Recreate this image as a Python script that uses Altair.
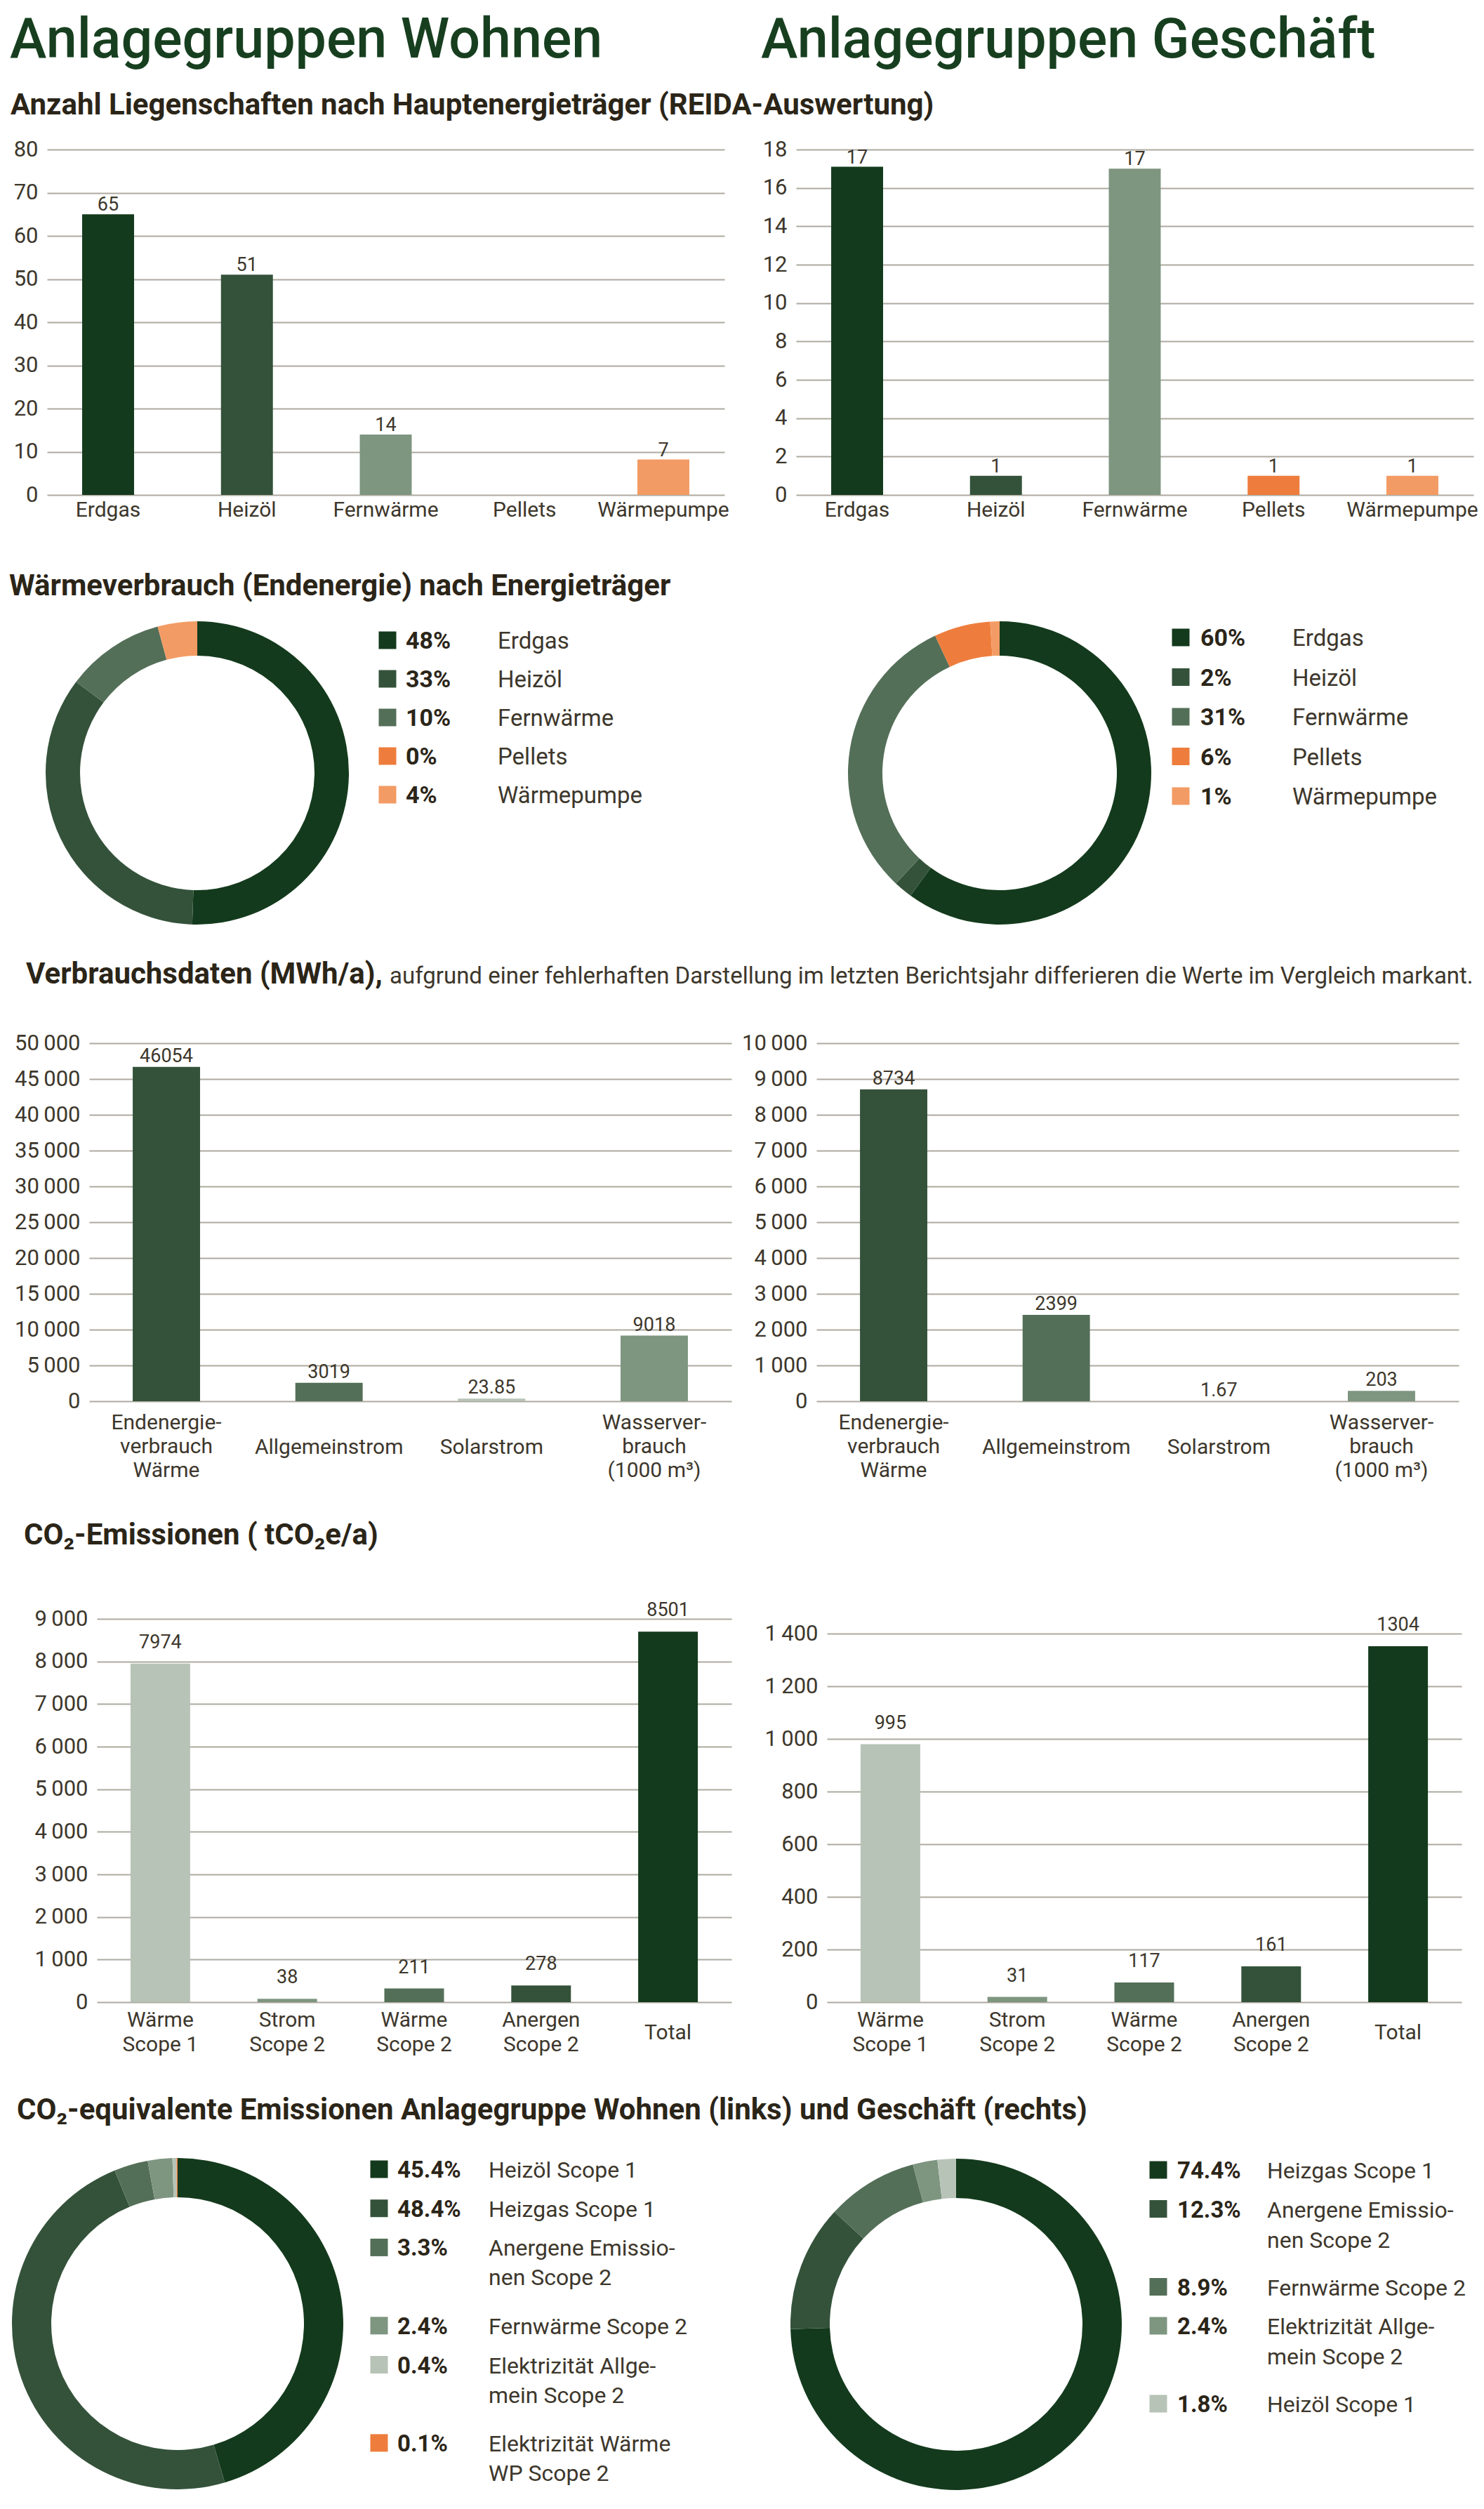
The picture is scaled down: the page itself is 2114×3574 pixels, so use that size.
import altair as alt
import pandas as pd

FONT = "Roboto"
C_TEXT = "#2b2518"
C_AXIS = "#3d372c"
C_GRID = "#aeaaa0"
C_TITLE = "#173f1f"
DARK = "#133a1c"
HEIZ = "#34523a"
MID = "#546f58"
GREY = "#7e9580"
LIGHT = "#b7c3b6"
ORA = "#ee7d3d"
ORAL = "#f39b64"

# ---------------- data ----------------
energy_cats = ["Erdgas", "Heizöl", "Fernwärme", "Pellets", "Wärmepumpe"]
energy_bar_colors = [DARK, HEIZ, GREY, ORA, ORAL]
count_wohnen = [65, 51, 14, 0, 8.2]
count_wohnen_lbl = ["65", "51", "14", "", "7"]
count_gesch = [17.1, 1, 17, 1, 1]
count_gesch_lbl = ["17", "1", "17", "1", "1"]

heat_share_wohnen = [48, 33, 10, 0, 4]
heat_share_gesch = [60, 2, 31, 6, 1]
heat_colors = [DARK, HEIZ, MID, ORA, ORAL]

cons_cats = ["Endenergie-\nverbrauch\nWärme", "Allgemeinstrom", "Solarstrom", "Wasserver-\nbrauch\n(1000 m³)"]
cons_colors = [HEIZ, MID, LIGHT, GREY]
cons_wohnen = [46700, 2580, 360, 9160]
cons_wohnen_lbl = ["46054", "3019", "23.85", "9018"]
cons_gesch = [8710, 2410, 1.67, 290]
cons_gesch_lbl = ["8734", "2399", "1.67", "203"]

co2_cats = ["Wärme\nScope 1", "Strom\nScope 2", "Wärme\nScope 2", "Anergen\nScope 2", "Total"]
co2_colors = [LIGHT, GREY, MID, HEIZ, DARK]
co2_wohnen = [7950, 80, 320, 390, 8700]
co2_wohnen_lbl = ["7974", "38", "211", "278", "8501"]
co2_gesch = [980, 20, 75, 136, 1352]
co2_gesch_lbl = ["995", "31", "117", "161", "1304"]

eq_w_labels = ["Heizöl Scope 1", "Heizgas Scope 1", "Anergene Emissio-\nnen Scope 2",
               "Fernwärme Scope 2", "Elektrizität Allge-\nmein Scope 2", "Elektrizität Wärme\nWP Scope 2"]
eq_w_share = [45.4, 48.4, 3.3, 2.4, 0.4, 0.1]
eq_w_colors = [DARK, HEIZ, MID, GREY, LIGHT, ORA]
eq_g_labels = ["Heizgas Scope 1", "Anergene Emissio-\nnen Scope 2", "Fernwärme Scope 2",
               "Elektrizität Allge-\nmein Scope 2", "Heizöl Scope 1"]
eq_g_share = [74.4, 12.3, 8.9, 2.4, 1.8]
eq_g_colors = [DARK, HEIZ, MID, GREY, LIGHT]

# ---------------- helpers ----------------
WL, WR = 1050, 1045
HFS = 42      # section heading font size
TFS = 79      # big title font size


def text_layer(txt, x, y, size, weight="normal", color=C_TEXT, align="left", baseline="alphabetic"):
    return alt.Chart(pd.DataFrame({"t": [txt]})).mark_text(
        align=align, baseline=baseline, fontSize=size, fontWeight=weight, color=color, font=FONT
    ).encode(text="t:N", x=alt.value(x), y=alt.value(y))


def spacer(w, h):
    return alt.Chart(pd.DataFrame({"a": [0]})).mark_text(text="").encode(
        x=alt.value(0), y=alt.value(0)).properties(width=w, height=h)


YLAB = "replace(format(datum.value, ','), ',', '\u2009')"


def bar_panel(cats, vals, lbls, colors, ymax, ticks, pw, height, x0, x1, pi, po,
              label_dy, pad_multi, pad_single, xlab_lh):
    df = pd.DataFrame({"cat": cats, "val": vals, "lbl": lbls, "col": colors})
    xscale = alt.Scale(range=[x0, x1], paddingInner=pi, paddingOuter=po)
    x = alt.X("cat:N", sort=cats, scale=xscale, title=None,
              axis=alt.Axis(labelAngle=0, domain=False, ticks=False, tickSize=0, grid=False,
                            labelPadding={"condition": {"test": "indexof(datum.value, '\\n') < 0",
                                                        "value": pad_single},
                                          "value": pad_multi},
                            labelExpr="split(datum.label, '\\n')",
                            labelFontSize=30, labelColor=C_AXIS, labelFont=FONT, labelLimit=500,
                            labelLineHeight=xlab_lh, labelBaseline="middle"))
    y = alt.Y("val:Q", scale=alt.Scale(domain=[0, ymax], nice=False), title=None,
              axis=alt.Axis(values=ticks, domain=False, ticks=False, tickSize=0, grid=True,
                            gridColor=C_GRID, gridWidth=2, labelPadding=13, labelExpr=YLAB,
                            offset=-x0, labelFontSize=31, labelColor=C_AXIS, labelFont=FONT))
    bars = alt.Chart(df).mark_bar().encode(x=x, y=y, color=alt.Color("col:N", scale=None))
    txt = alt.Chart(df).mark_text(dy=label_dy, baseline="alphabetic", fontSize=27,
                                  color=C_AXIS, font=FONT).encode(
        x=alt.X("cat:N", sort=cats), y=alt.Y("val:Q"), text="lbl:N")
    return alt.layer(bars, txt).properties(width=pw, height=height)


def donut_layers(labels, shares, colors, cx, cy, R, r, sq_x, pct_x, lab_x, y0, step, lh,
                 fs, sq=25):
    n = len(labels)
    slots, s = [], 0
    for lab in labels:
        slots.append(s)
        s += len(lab.split("\n"))
    df = pd.DataFrame({"lab": labels, "share": shares, "col": colors, "idx": list(range(n)),
                       "slot": slots, "pct": [f"{v:g}%" for v in shares]})
    arc = alt.Chart(df).mark_arc(innerRadius=r, outerRadius=R).encode(
        theta=alt.Theta("share:Q", stack=True),
        color=alt.Color("col:N", scale=None),
        order=alt.Order("idx:Q"),
        x=alt.value(cx), y=alt.value(cy))
    yenc = alt.Y("slot:Q", scale=alt.Scale(domain=[0, 1], range=[y0, y0 + step]), axis=None)
    sqm = alt.Chart(df).mark_square(size=sq * sq, opacity=1).encode(
        x=alt.value(sq_x), y=yenc, color=alt.Color("col:N", scale=None))
    pct = alt.Chart(df).mark_text(align="left", baseline="alphabetic", dy=round(fs * 0.36),
                                  fontSize=fs + 1, fontWeight="bold", color=C_TEXT, font=FONT).encode(
        x=alt.value(pct_x), y=yenc, text="pct:N")
    lab = alt.Chart(df).mark_text(align="left", baseline="alphabetic", dy=round(fs * 0.36),
                                  fontSize=fs, color=C_AXIS, font=FONT, lineBreak="\n",
                                  lineHeight=lh).encode(
        x=alt.value(lab_x), y=yenc, text="lab:N")
    return [arc, sqm, pct, lab]


# ---------------- rows ----------------
H_HEAD, H_R1, H_D1, H_R3, H_S, H_R5, H_D2 = 205, 492, 781, 510, 310, 546, 714

headL = alt.layer(
    text_layer("Anlagegruppen Wohnen", 6, 74, TFS, weight=500, color=C_TITLE),
    text_layer("Anzahl Liegenschaften nach Hauptenergieträger (REIDA-Auswertung)", 7, 155, HFS,
               weight="bold"),
).properties(width=WL, height=H_HEAD)
headR = alt.layer(
    text_layer("Anlagegruppen Geschäft", 26, 74, TFS, weight=500, color=C_TITLE),
).properties(width=WR, height=H_HEAD)

c1 = bar_panel(energy_cats, count_wohnen, count_wohnen_lbl, energy_bar_colors, 80,
               list(range(0, 81, 10)), WL, H_R1, 59, 1024, 0.626, 0.253, -5, 21, 21, 34)
c2 = bar_panel(energy_cats, count_gesch, count_gesch_lbl, energy_bar_colors, 18,
               list(range(0, 19, 2)), WR, H_R1, 76, 1041, 0.626, 0.253, -5, 21, 21, 34)

d1L = alt.layer(
    text_layer("Wärmeverbrauch (Endenergie) nach Energieträger", 5, 143, HFS, weight="bold"),
    *donut_layers(energy_cats, heat_share_wohnen, heat_colors, 273, 396, 216, 167,
                  544, 570, 701, 207, 55, 40, 33),
    text_layer("Verbrauchsdaten (MWh/a),", 29, 696, HFS, weight="bold"),
    text_layer("aufgrund einer fehlerhaften Darstellung im letzten Berichtsjahr differieren die Werte im Vergleich markant.",
               547, 696, 33, color=C_AXIS),
).properties(width=WL, height=H_D1)
d1R = alt.layer(
    *donut_layers(energy_cats, heat_share_gesch, heat_colors, 366, 396, 216, 167,
                  624, 652, 783, 203, 56.5, 40, 33),
).properties(width=WR, height=H_D1)

c3 = bar_panel(cons_cats, cons_wohnen, cons_wohnen_lbl, cons_colors, 50000,
               list(range(0, 50001, 5000)), WL, H_R3, 119, 1034, 0.586, 0.268, -7, 30, 65, 34)
c4 = bar_panel(cons_cats, cons_gesch, cons_gesch_lbl, cons_colors, 10000,
               list(range(0, 10001, 1000)), WR, H_R3, 105, 1020, 0.586, 0.268, -7, 30, 65, 34)

sL = alt.layer(
    text_layer("CO₂-Emissionen ( tCO₂e/a)", 26, 204, HFS, weight="bold"),
).properties(width=WL, height=H_S)

c5 = bar_panel(co2_cats, co2_wohnen, co2_wohnen_lbl, co2_colors, 9000,
               list(range(0, 9001, 1000)), WL, H_R5, 130, 1034, 0.53, 0.265, -22, 25, 43, 35)
c6 = bar_panel(co2_cats, co2_gesch, co2_gesch_lbl, co2_colors, 1456,
               list(range(0, 1401, 200)), WR, H_R5, 120, 1024, 0.53, 0.265, -22, 25, 43, 35)

d2L = alt.layer(
    text_layer("CO₂-equivalente Emissionen Anlagegruppe Wohnen (links) und Geschäft (rechts)",
               16, 167, HFS, weight="bold"),
    *donut_layers(eq_w_labels, eq_w_share, eq_w_colors, 245, 458, 236, 180,
                  532, 558, 688, 238, 55.7, 42, 32),
).properties(width=WL, height=H_D2)
d2R = alt.layer(
    *donut_layers(eq_g_labels, eq_g_share, eq_g_colors, 304, 459, 236, 180,
                  592, 619, 747, 239, 55.5, 43, 32),
).properties(width=WR, height=H_D2)

cells = [
    headL, headR,
    c1, c2,
    d1L, d1R,
    c3, c4,
    sL, spacer(WR, H_S),
    c5, c6,
    d2L, d2R,
]

chart = alt.concat(*cells, columns=2, spacing=0, bounds="flush").properties(
    padding=0).configure_view(stroke=None).configure_axis(labelFont=FONT)

chart.save("out.html", embed_options={"renderer": "svg", "actions": False})
